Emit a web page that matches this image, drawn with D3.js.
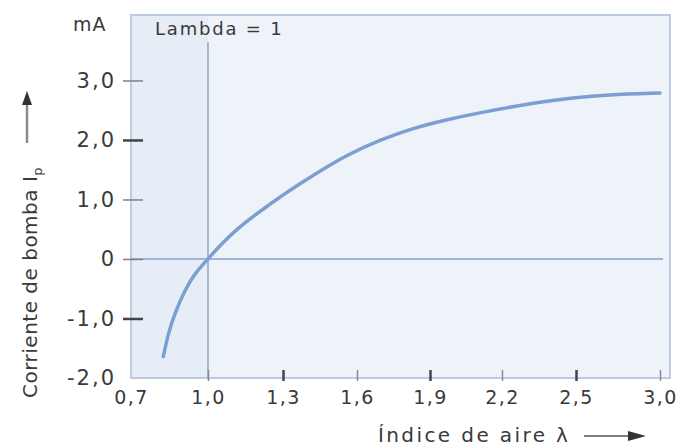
<!DOCTYPE html>
<html>
<head>
<meta charset="utf-8">
<script src="https://cdn.jsdelivr.net/npm/d3@7/dist/d3.min.js"></script>
<style>
	body { margin: 0; background: #fff; }
	text { font-family: "DejaVu Sans", sans-serif; fill: #3a3a3a; }
</style>
</head>
<body>
<div id="chart"></div>
<script>
(function(){
	// tick values (the x axis is not linear, last step is wider)
	var xTicks = [0.7, 1.0, 1.3, 1.6, 1.9, 2.2, 2.5, 3.0];
	var yTicks = [3, 2, 1, 0, -1, -2];

	// pump current vs lambda
	var lambda  = [0.826, 0.845, 0.871, 0.91, 0.949, 1.0, 1.055, 1.121, 1.188, 1.255, 1.3, 1.423, 1.558, 1.695, 1.831, 1.97, 2.095, 2.354, 2.488, 2.683, 3.0];
	var current = [-1.64, -1.25, -0.91, -0.52, -0.24, 0, 0.26, 0.52, 0.74, 0.94, 1.08, 1.41, 1.75, 2.0, 2.20, 2.34, 2.45, 2.64, 2.71, 2.76, 2.79];

	var width = 682,
		height = 446;

	var left = 131, top = 15, right = 670, bottom = 378;

	var svg = d3.select("#chart")
		.append("svg")
		.attr("width", width)
		.attr("height", height)

	// spacing of the x ticks along the frame
	var xStops = [0, 77, 152, 226, 299, 371, 445, 529];
	var x = d3.scaleLinear()
		.domain(xTicks)
		.range(xStops.map(function(d){ return left + d; }))

	var y = d3.scaleLinear()
		.domain([-2, 4.1])
		.range([bottom, top])

	// comma decimals and a plain hyphen for the minus
	var fmt = function(d){
		return d3.format(".1f")(d).replace(".", ",").replace("\u2212", "-");
	};

	//plot background
	svg.append("rect")
		.attr("x", left)
		.attr("y", top)
		.attr("width", right - left)
		.attr("height", bottom - top)
		.attr("fill", "#eef2f9")

	svg.append("rect")
		.attr("x", left)
		.attr("y", top)
		.attr("width", x(1.0) - left)
		.attr("height", bottom - top)
		.attr("fill", "#e7edf6")

	svg.append("rect")
		.attr("x", left)
		.attr("y", top)
		.attr("width", right - left)
		.attr("height", bottom - top)
		.attr("fill", "none")
		.attr("stroke", "#bccbe3")
		.attr("stroke-width", 2)

	// zero line and lambda = 1 line
	svg.append("line")
		.attr("x1", left)
		.attr("x2", right - 7)
		.attr("y1", y(0))
		.attr("y2", y(0))
		.attr("stroke", "#9fb6d9")
		.attr("stroke-width", 2)

	svg.append("line")
		.attr("x1", x(1.0))
		.attr("x2", x(1.0))
		.attr("y1", 42)
		.attr("y2", bottom)
		.attr("stroke", "#8ea3c6")
		.attr("stroke-width", 1.5)

	svg.append("text")
		.attr("x", 155)
		.attr("y", 35)
		.attr("font-size", 18)
		.attr("letter-spacing", 1.8)
		.text("Lambda = 1")

	// y axis
	var yAxis = svg.append("g")
		.attr("transform", "translate(143,0)")
		.call(d3.axisLeft(y)
			.tickValues(yTicks)
			.tickSize(20)
			.tickPadding(7)
			.tickFormat(function(d){ return d === 0 ? "0" : fmt(d); }))

	yAxis.select(".domain").remove()
	yAxis.selectAll(".tick line")
		.attr("stroke", function(d){ return (d === 2 || d === -1) ? "#444" : "#808080"; })
		.attr("stroke-width", function(d){ return (d === 2 || d === -1) ? 2.5 : 1.5; })
		.attr("opacity", function(d){ return d === -2 ? 0 : 1; })
	yAxis.selectAll(".tick text")
		.attr("font-size", 21)
		.attr("letter-spacing", 2)
		.attr("fill", "#3a3a3a")

	// x axis
	var xAxis = svg.append("g")
		.attr("transform", "translate(0,370)")
		.call(d3.axisBottom(x)
			.tickValues(xTicks)
			.tickSize(11)
			.tickPadding(10)
			.tickFormat(fmt))

	xAxis.select(".domain").remove()
	xAxis.selectAll(".tick line")
		.attr("stroke", function(d, i){ return i % 2 === 0 ? "#444" : "#8a8a8a"; })
		.attr("stroke-width", function(d, i){ return i % 2 === 0 ? 2.5 : 1.5; })
		.attr("opacity", function(d, i){ return i === 0 ? 0 : 1; })
	xAxis.selectAll(".tick text")
		.attr("font-size", 19)
		.attr("letter-spacing", 1.5)
		.attr("fill", "#3a3a3a")

	// the curve
	var points = lambda.map(function(d, i){ return [d, current[i]]; });
	var line = d3.line()
		.x(function(d){ return x(d[0]); })
		.y(function(d){ return y(d[1]); })
		.curve(d3.curveBasis)

	svg.append("path")
		.datum(points)
		.attr("d", line)
		.attr("fill", "none")
		.attr("stroke", "#7b9fd3")
		.attr("stroke-width", 3.5)
		.attr("stroke-linecap", "round")

	// units and axis titles
	svg.append("text")
		.attr("x", 73)
		.attr("y", 31)
		.attr("font-size", 19)
		.attr("letter-spacing", 1)
		.text("mA")

	var yTitle = svg.append("text")
		.attr("transform", "translate(37,398) rotate(-90)")
		.attr("font-size", 20)
		.attr("letter-spacing", 0.5)
		.text("Corriente de bomba I")
	yTitle.append("tspan")
		.attr("font-size", 13)
		.attr("dy", 5)
		.text("p")

	svg.append("line")
		.attr("x1", 27).attr("x2", 27)
		.attr("y1", 143).attr("y2", 102)
		.attr("stroke", "#8a8a8a")
		.attr("stroke-width", 2.5)
	svg.append("path")
		.attr("d", "M27,91 L22,105 L32,105 Z")
		.attr("fill", "#333")

	svg.append("text")
		.attr("x", 378)
		.attr("y", 442)
		.attr("font-size", 20)
		.attr("letter-spacing", 2.4)
		.text("Índice de aire λ")

	svg.append("line")
		.attr("x1", 584).attr("x2", 632)
		.attr("y1", 436).attr("y2", 436)
		.attr("stroke", "#555")
		.attr("stroke-width", 1.5)
	svg.append("path")
		.attr("d", "M646,436 L628,431 L628,441 Z")
		.attr("fill", "#333")

})();
</script>
</body>
</html>
